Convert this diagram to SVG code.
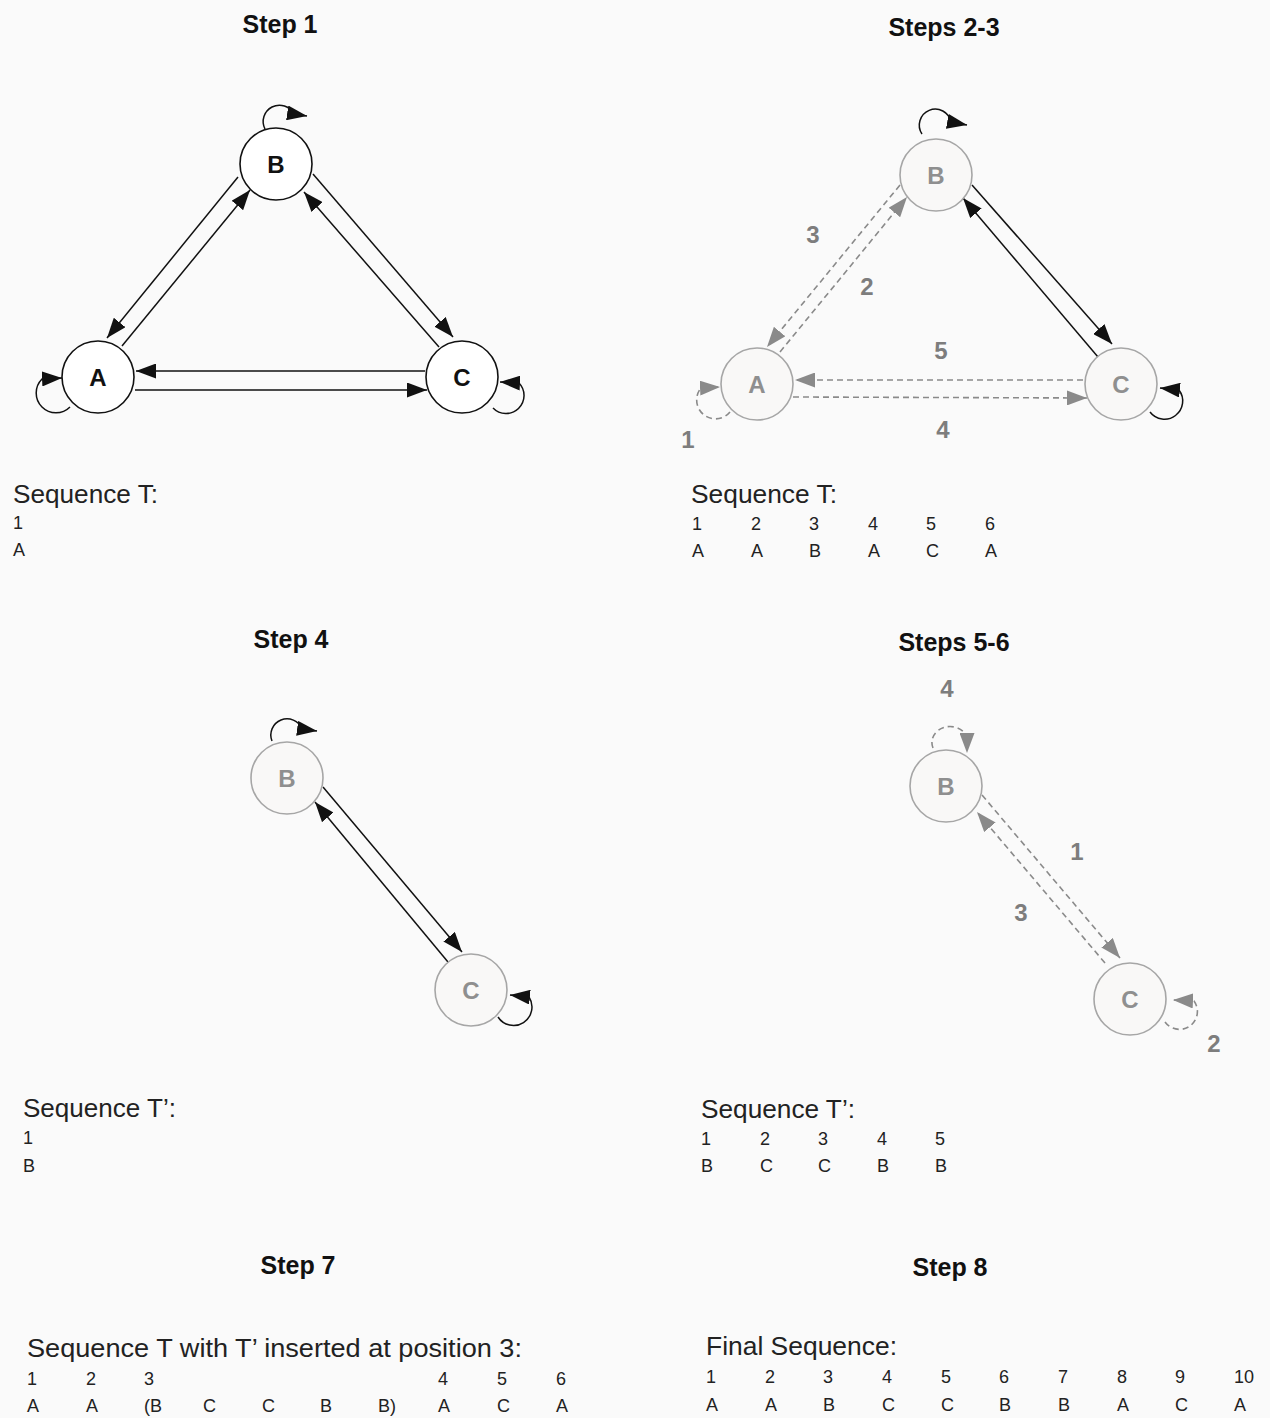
<svg xmlns="http://www.w3.org/2000/svg" width="1270" height="1418" viewBox="0 0 1270 1418">
<style>
.title{font-family:"Liberation Sans",Arial,sans-serif;font-weight:bold;font-size:25px;fill:#111;text-anchor:middle}
.head{font-family:"Liberation Sans",Arial,sans-serif;font-size:25px;fill:#222}
.seq{font-family:"Liberation Sans",Arial,sans-serif;font-size:18px;fill:#222}
.nb{fill:#fff;stroke:#111;stroke-width:1.6}
.ng{fill:#f9f8f7;stroke:#a6a6a6;stroke-width:1.6}
.lb{font-family:"Liberation Sans",Arial,sans-serif;font-weight:bold;font-size:24px;fill:#111;text-anchor:middle}
.lg{font-family:"Liberation Sans",Arial,sans-serif;font-weight:bold;font-size:24px;fill:#8f8f8f;text-anchor:middle}
.num{font-family:"Liberation Sans",Arial,sans-serif;font-weight:bold;font-size:24px;fill:#7d7d7d;text-anchor:middle}
.eb{fill:none;stroke:#111;stroke-width:1.5;marker-end:url(#ab)}
.eg{fill:none;stroke:#8a8a8a;stroke-width:1.6;stroke-dasharray:6 4;marker-end:url(#ag)}
</style>
<defs>
<marker id="ab" viewBox="0 0 20 15" refX="20" refY="7.5" markerWidth="20" markerHeight="15" markerUnits="userSpaceOnUse" orient="auto"><path d="M0,0 L20,7.5 L0,15 z" fill="#111"/></marker>
<marker id="ag" viewBox="0 0 20 15" refX="20" refY="7.5" markerWidth="20" markerHeight="15" markerUnits="userSpaceOnUse" orient="auto"><path d="M0,0 L20,7.5 L0,15 z" fill="#8a8a8a"/></marker>
</defs>
<rect x="0" y="0" width="1270" height="1418" fill="#fafafa"/>

<g id="titles">
<text class="title" x="280" y="33">Step 1</text>
<text class="title" x="944" y="36">Steps 2-3</text>
<text class="title" x="291" y="648">Step 4</text>
<text class="title" x="954" y="651">Steps 5-6</text>
<text class="title" x="298" y="1274">Step 7</text>
<text class="title" x="950" y="1276">Step 8</text>
</g>

<g id="connectors">
<!-- Step 1 -->
<path class="eb" d="M238,177 L107,338"/>
<path class="eb" d="M122,346 L250,190"/>
<path class="eb" d="M313,174 L453,337"/>
<path class="eb" d="M439,347 L304,192"/>
<path class="eb" d="M425,371 L136,371"/>
<path class="eb" d="M135,390 L427,390"/>
<path class="eb" d="M265,129 A16,16 0 1 1 294,114 L307,116"/>
<path class="eb" d="M70,407 A16,16 0 1 1 42,379 L62,378"/>
<path class="eb" d="M493,408 A16,16 0 1 0 519,383 L500,382"/>
<!-- Steps 2-3 -->
<path class="eg" d="M900,185 L767,347"/>
<path class="eg" d="M780,352 L907,197"/>
<path class="eb" d="M972,185 L1112,344"/>
<path class="eb" d="M1098,357 L963,198"/>
<path class="eg" d="M1083,380 L795,380"/>
<path class="eg" d="M793,397 L1087,398"/>
<path class="eg" d="M730,412 A16,16 0 1 1 701,388 L720,387"/>
<path class="eb" d="M922,134 A16,16 0 1 1 951,122 L967,125"/>
<path class="eb" d="M1150,412 A16,16 0 1 0 1179,390 L1160,388"/>
<!-- Step 4 -->
<path class="eb" d="M323,787 L462,952"/>
<path class="eb" d="M448,962 L315,802"/>
<path class="eb" d="M272,741 A16,16 0 1 1 302,729 L317,731"/>
<path class="eb" d="M498,1017 A16,16 0 1 0 529,997 L510,995"/>
<!-- Steps 5-6 -->
<path class="eg" d="M982,795 L1120,958"/>
<path class="eg" d="M1105,963 L977,812"/>
<path class="eg" d="M933,748 A17,15 0 1 1 967,737 L967,753"/>
<path class="eg" d="M1165,1022 A17,17 0 0 0 1194,1001 L1173,1000"/>
</g>

<g id="edge-labels">
<text class="num" x="688" y="448">1</text>
<text class="num" x="867" y="295">2</text>
<text class="num" x="813" y="243">3</text>
<text class="num" x="943" y="438">4</text>
<text class="num" x="941" y="359">5</text>
<text class="num" x="1077" y="860">1</text>
<text class="num" x="1214" y="1052">2</text>
<text class="num" x="1021" y="921">3</text>
<text class="num" x="947" y="697">4</text>
</g>

<g id="s1-A"><circle class="nb" cx="98" cy="377" r="36"/><text class="lb" x="98" y="386">A</text></g>
<g id="s1-B"><circle class="nb" cx="276" cy="164" r="36"/><text class="lb" x="276" y="173">B</text></g>
<g id="s1-C"><circle class="nb" cx="462" cy="377" r="36"/><text class="lb" x="462" y="386">C</text></g>

<g id="s2-A"><circle class="ng" cx="757" cy="384" r="36"/><text class="lg" x="757" y="393">A</text></g>
<g id="s2-B"><circle class="ng" cx="936" cy="175" r="36"/><text class="lg" x="936" y="184">B</text></g>
<g id="s2-C"><circle class="ng" cx="1121" cy="384" r="36"/><text class="lg" x="1121" y="393">C</text></g>

<g id="s4-B"><circle class="ng" cx="287" cy="778" r="36"/><text class="lg" x="287" y="787">B</text></g>
<g id="s4-C"><circle class="ng" cx="471" cy="990" r="36"/><text class="lg" x="471" y="999">C</text></g>

<g id="s5-B"><circle class="ng" cx="946" cy="786" r="36"/><text class="lg" x="946" y="795">B</text></g>
<g id="s5-C"><circle class="ng" cx="1130" cy="999" r="36"/><text class="lg" x="1130" y="1008">C</text></g>

<g id="seq1">
<text class="head" x="13" y="503" textLength="145" lengthAdjust="spacingAndGlyphs">Sequence T:</text>
<text class="seq" x="13" y="529">1</text>
<text class="seq" x="13" y="556">A</text>
</g>

<g id="seq2">
<text class="head" x="691" y="503" textLength="146" lengthAdjust="spacingAndGlyphs">Sequence T:</text>
<text class="seq" y="530"><tspan x="692">1</tspan><tspan x="751">2</tspan><tspan x="809">3</tspan><tspan x="868">4</tspan><tspan x="926">5</tspan><tspan x="985">6</tspan></text>
<text class="seq" y="557"><tspan x="692">A</tspan><tspan x="751">A</tspan><tspan x="809">B</tspan><tspan x="868">A</tspan><tspan x="926">C</tspan><tspan x="985">A</tspan></text>
</g>

<g id="seq3">
<text class="head" x="23" y="1117" textLength="153" lengthAdjust="spacingAndGlyphs">Sequence T’:</text>
<text class="seq" x="23" y="1144">1</text>
<text class="seq" x="23" y="1172">B</text>
</g>

<g id="seq4">
<text class="head" x="701" y="1118" textLength="154" lengthAdjust="spacingAndGlyphs">Sequence T’:</text>
<text class="seq" y="1145"><tspan x="701">1</tspan><tspan x="760">2</tspan><tspan x="818">3</tspan><tspan x="877">4</tspan><tspan x="935">5</tspan></text>
<text class="seq" y="1172"><tspan x="701">B</tspan><tspan x="760">C</tspan><tspan x="818">C</tspan><tspan x="877">B</tspan><tspan x="935">B</tspan></text>
</g>

<g id="seq5">
<text class="head" x="27" y="1357" textLength="495" lengthAdjust="spacingAndGlyphs">Sequence T with T’ inserted at position 3:</text>
<text class="seq" y="1385"><tspan x="27">1</tspan><tspan x="86">2</tspan><tspan x="144">3</tspan><tspan x="438">4</tspan><tspan x="497">5</tspan><tspan x="556">6</tspan></text>
<text class="seq" y="1412"><tspan x="27">A</tspan><tspan x="86">A</tspan><tspan x="144">(B</tspan><tspan x="203">C</tspan><tspan x="262">C</tspan><tspan x="320">B</tspan><tspan x="378">B)</tspan><tspan x="438">A</tspan><tspan x="497">C</tspan><tspan x="556">A</tspan></text>
</g>

<g id="seq6">
<text class="head" x="706" y="1355" textLength="191" lengthAdjust="spacingAndGlyphs">Final Sequence:</text>
<text class="seq" y="1383"><tspan x="706">1</tspan><tspan x="765">2</tspan><tspan x="823">3</tspan><tspan x="882">4</tspan><tspan x="941">5</tspan><tspan x="999">6</tspan><tspan x="1058">7</tspan><tspan x="1117">8</tspan><tspan x="1175">9</tspan><tspan x="1234">10</tspan></text>
<text class="seq" y="1411"><tspan x="706">A</tspan><tspan x="765">A</tspan><tspan x="823">B</tspan><tspan x="882">C</tspan><tspan x="941">C</tspan><tspan x="999">B</tspan><tspan x="1058">B</tspan><tspan x="1117">A</tspan><tspan x="1175">C</tspan><tspan x="1234">A</tspan></text>
</g>
</svg>
